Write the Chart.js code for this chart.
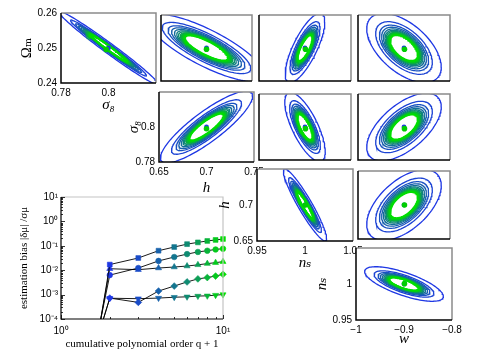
<!DOCTYPE html>
<html><head><meta charset="utf-8">
<script src="https://cdn.jsdelivr.net/npm/chart.js@4.4.1/dist/chart.umd.min.js"></script>
<style>
html,body{margin:0;padding:0;background:#fff;}
#wrap{position:relative;width:477px;height:361px;overflow:hidden;background:#fff;}
canvas{position:absolute;}
</style></head><body><div id="wrap"></div>
<script>
// ---------------- DATA ----------------
// cosmological parameters: Omega_m, sigma_8, h, n_s, w
const paramLabels = ['Ωₘ', 'σ₈', 'h', 'nₛ', 'w'];
const fiducial   = [0.25, 0.8, 0.7, 1.0, -0.9];
const biasedFit  = [0.2496, 0.799, 0.7, 1.0005, -0.899];
const axisMin    = [0.24, 0.78, 0.65, 0.95, -1.0];
const axisMax    = [0.26, 0.82, 0.75, 1.05, -0.8];
// tick labels of the four labelled (diagonal) panels
const diagXTicks = [[0.78, 0.8], [0.65, 0.7, 0.75], [0.95, 1, 1.05], [-1, -0.9, -0.8]];
const diagYTicks = [[0.24, 0.25, 0.26], [0.78, 0.8], [0.65, 0.7], [0.95, 1]];

// panels: y parameter / x parameter
const panelYParam = [0, 0, 0, 0, 1, 1, 1, 2, 2, 3];
const panelXParam = [1, 2, 3, 4, 2, 3, 4, 3, 4, 4];
// outermost contour half-extents and correlation per panel
const outerSigmaX = [0.021, 0.064, 0.0215, 0.081, 0.0485, 0.022, 0.081, 0.0225, 0.081, 0.082];
const outerSigmaY = [0.0105, 0.0102, 0.0105, 0.0105, 0.0205, 0.021, 0.0205, 0.05, 0.052, 0.024];
const contourCorr = [-0.985, -0.8, 0.75, -0.55, 0.86, -0.72, 0.6, -0.93, 0.55, -0.72];
// relative size of each nested contour (outer blue -> inner green)
const contourScale = [1.0, 0.76, 0.66, 0.6, 0.55, 0.51, 0.48, 0.45, 0.43, 0.41, 0.39, 0.37];

// inset: estimation bias vs cumulative polynomial order q+1
const polyOrder   = [1, 2, 3, 4, 5, 6, 7, 8, 9, 10];
const biasSquare  = [1e-14, 0.017, 0.0316, 0.063, 0.089, 0.117, 0.138, 0.158, 0.174, 0.19];
const biasCircle  = [1e-12, 0.0063, 0.0123, 0.024, 0.0347, 0.0457, 0.056, 0.063, 0.071, 0.076];
const biasTriUp   = [1e-13, 0.0115, 0.0105, 0.0123, 0.0135, 0.0148, 0.0166, 0.0186, 0.0204, 0.0224];
const biasDiamond = [2e-10, 0.00072, 0.00048, 0.0014, 0.00224, 0.0033, 0.0044, 0.005, 0.00575, 0.0068];
const biasTriDown = [2e-10, 0.00071, 0.00068, 0.00072, 0.00078, 0.00081, 0.00087, 0.00089, 0.00095, 0.001];
const insetXTicks = [1, 10];
const insetYTicks = [1e-4, 1e-3, 1e-2, 1e-1, 1, 10];
const insetXTickLabels = ['10⁰', '10¹'];
const insetYTickLabels = ['10⁻⁴', '10⁻³', '10⁻²', '10⁻¹', '10⁰', '10¹'];

// ---------------- LAYOUT / STYLE ----------------
const colLeft = [61, 159, 257, 356], colRight = [156, 254, 353, 452];
const rowTop = [13, 92, 169, 248], rowBottom = [83, 162, 241, 320];
const yTitleX = [27, 134, 225, 322], xTitleY = [105, 188, 263, 339];
const ELLIPSE_N = 120;
const BLUE = [30, 55, 228], GREEN = [0, 222, 0];
function mix(t) {
  const c = BLUE.map((b, i) => Math.round(b + (GREEN[i] - b) * t));
  return 'rgb(' + c.join(',') + ')';
}
Chart.defaults.font.family = "'Liberation Sans', Arial, sans-serif";
Chart.defaults.color = '#000';
const wrap = document.getElementById('wrap');

function addCanvas(left, top, w, h) {
  const c = document.createElement('canvas');
  c.width = w; c.height = h;
  c.style.left = left + 'px'; c.style.top = top + 'px';
  c.style.width = w + 'px'; c.style.height = h + 'px';
  wrap.appendChild(c);
  return c;
}
const framePlugin = {
  id: 'frame',
  beforeDraw(chart) {
    const {ctx, chartArea: a} = chart;
    ctx.save(); ctx.fillStyle = '#fff';
    ctx.fillRect(a.left, a.top, a.right - a.left, a.bottom - a.top); ctx.restore();
  },
  afterDraw(chart, args, opts) {
    const {ctx, chartArea: a} = chart;
    ctx.save(); ctx.lineWidth = opts.width || 1.5;
    ctx.strokeStyle = opts.light || '#8a8a8a';
    ctx.beginPath(); ctx.moveTo(a.left, a.top); ctx.lineTo(a.right, a.top); ctx.lineTo(a.right, a.bottom); ctx.stroke();
    ctx.strokeStyle = '#000';
    ctx.beginPath(); ctx.moveTo(a.left, a.top); ctx.lineTo(a.left, a.bottom); ctx.lineTo(a.right, a.bottom); ctx.stroke();
    ctx.restore();
  }
};
function fmt(v) { return String(+v.toFixed(4)).replace('-', '\u2212'); }

function ellipse(cx, cy, sx, sy, r, s) {
  const pts = [], q = Math.sqrt(1 - r * r);
  for (let k = 0; k <= ELLIPSE_N; k++) {
    const t = 2 * Math.PI * k / ELLIPSE_N;
    pts.push({x: cx + s * sx * Math.cos(t), y: cy + s * sy * (r * Math.cos(t) + q * Math.sin(t))});
  }
  return pts;
}

function panelDatasets(p) {
  const xi = panelXParam[p], yi = panelYParam[p];
  const ds = [];
  ds.push({data: [{x: biasedFit[xi], y: biasedFit[yi]}], pointRadius: 2.8, pointBackgroundColor: 'rgb(0,205,0)', pointBorderWidth: 0, showLine: false});
  ds.push({data: [{x: fiducial[xi], y: fiducial[yi]}], pointRadius: 2.4, pointBackgroundColor: 'rgb(30,55,228)', pointBorderWidth: 0, showLine: false});
  const n = contourScale.length;
  for (let i = n - 1; i >= 0; i--) {
    const t = Math.pow(i / (n - 1), 1.1);
    ds.push({
      data: ellipse(fiducial[xi], fiducial[yi], outerSigmaX[p], outerSigmaY[p], contourCorr[p], contourScale[i]),
      showLine: true, pointRadius: 0, borderColor: mix(t), borderWidth: i > n - 5 ? 1.9 : 1.3,
      clip: 0, tension: 0
    });
  }
  return ds;
}

function titleFont(pi) {
  return {family: "'Liberation Serif', 'DejaVu Serif', serif", size: 15, style: pi === 0 ? 'normal' : 'italic'};
}

function makePanel(p) {
  const xi = panelXParam[p], yi = panelYParam[p];
  const r = yi, c = xi - 1;
  const W = colRight[c] - colLeft[c], H = rowBottom[r] - rowTop[r];
  const diag = r === c;
  let canvas, layoutPad, scales;
  if (!diag) {
    const m = 2;
    canvas = addCanvas(colLeft[c] - m, rowTop[r] - m, W + 2 * m, H + 2 * m);
    layoutPad = m;
    scales = {
      x: {type: 'linear', min: axisMin[xi], max: axisMax[xi], display: false},
      y: {type: 'linear', min: axisMin[yi], max: axisMax[yi], display: false}
    };
  } else {
    const L = colLeft[c] - (yTitleX[r] - 11);
    const T = 10, R = 14;
    const B = (xTitleY[r] + 11) - rowBottom[r];
    canvas = addCanvas(colLeft[c] - L, rowTop[r] - T, L + W + R, T + H + B);
    layoutPad = {left: 0, top: T, right: R, bottom: 0};
    const tickFont = {size: 10};
    scales = {
      x: {type: 'linear', min: axisMin[xi], max: axisMax[xi],
        grid: {display: false, drawTicks: false}, border: {display: false},
        afterBuildTicks: s => { s.ticks = diagXTicks[r].map(v => ({value: v})); },
        afterFit: s => { s.height = B; },
        ticks: {padding: 4, font: tickFont, maxRotation: 0, minRotation: 0, autoSkip: false, callback: v => fmt(v)},
        title: {display: true, text: paramLabels[xi], font: titleFont(xi), padding: {top: 0, bottom: 2}, color: '#000'}},
      y: {type: 'linear', min: axisMin[yi], max: axisMax[yi],
        grid: {display: false, drawTicks: false}, border: {display: false},
        afterBuildTicks: s => { s.ticks = diagYTicks[r].map(v => ({value: v})); },
        afterFit: s => { s.width = L; },
        ticks: {padding: 4, font: tickFont, autoSkip: false, callback: v => fmt(v)},
        title: {display: true, text: paramLabels[yi], font: titleFont(yi), padding: {top: 2, bottom: 0}, color: '#000'}}
    };
  }
  new Chart(canvas, {
    type: 'scatter',
    data: {datasets: panelDatasets(p)},
    options: {
      responsive: false, animation: false, devicePixelRatio: 1, events: [],
      layout: {padding: layoutPad},
      plugins: {legend: {display: false}, tooltip: {enabled: false}, frame: {}},
      scales
    },
    plugins: [framePlugin]
  });
}

// ---------------- INSET ----------------
const insideTicks = {
  id: 'insideTicks',
  afterDraw(chart) {
    const {ctx, chartArea: a, scales: {x, y}} = chart;
    ctx.save(); ctx.strokeStyle = '#000'; ctx.lineWidth = 0.8; ctx.beginPath();
    for (let d = -4; d <= 1; d++) for (let m = 1; m <= 9; m++) {
      const v = m * Math.pow(10, d); if (v > 10.0001) continue;
      const py = Math.round(y.getPixelForValue(v)) + 0.5, len = m === 1 ? 4 : 2;
      ctx.moveTo(a.left, py); ctx.lineTo(a.left + len, py);
    }
    for (let m = 1; m <= 10; m++) {
      const px = Math.round(x.getPixelForValue(m)) + 0.5, len = (m === 1 || m === 10) ? 4 : 2;
      ctx.moveTo(px, a.bottom); ctx.lineTo(px, a.bottom - len);
    }
    ctx.stroke(); ctx.restore();
  }
};
function makeInset() {
  const cl = 0, ct = 185, cw = 240, ch = 176;
  const L = 61, T = 197 - ct, R = cl + cw - 223, B = ct + ch - 319;
  const canvas = addCanvas(cl, ct, cw, ch);
  const series = [biasSquare, biasCircle, biasTriUp, biasDiamond, biasTriDown];
  const styles = [['rect', 3.4, 0], ['circle', 2.8, 0], ['triangle', 3.5, 0], ['rectRot', 3.4, 0], ['triangle', 3.5, 180]];
  const colors = polyOrder.map((o, i) => mix(Math.max(0, i - 1) / (polyOrder.length - 2)));
  const datasets = series.map((vals, s) => ({
    data: polyOrder.map((o, i) => ({x: o, y: vals[i]})),
    showLine: true, borderColor: '#000', borderWidth: 0.9,
    pointStyle: styles[s][0], pointRadius: styles[s][1], pointRotation: styles[s][2],
    pointBackgroundColor: colors, pointBorderColor: colors, pointBorderWidth: 0.6,
    clip: {left: 0, top: 0, right: 6, bottom: 0}
  }));
  const serif = "'Liberation Serif', 'DejaVu Serif', serif";
  new Chart(canvas, {
    type: 'scatter',
    data: {datasets},
    options: {
      responsive: false, animation: false, devicePixelRatio: 1, events: [],
      layout: {padding: {left: 0, top: T, right: R, bottom: 0}},
      plugins: {legend: {display: false}, tooltip: {enabled: false}, frame: {light: '#c4c4c4', width: 1.2}},
      scales: {
        x: {type: 'logarithmic', min: 1, max: 10,
          grid: {display: false, drawTicks: false}, border: {display: false},
          afterBuildTicks: s => { s.ticks = insetXTicks.map(v => ({value: v})); },
          afterFit: s => { s.height = B; },
          ticks: {padding: 6, font: {size: 10}, maxRotation: 0, minRotation: 0, autoSkip: false,
            callback: (v) => insetXTickLabels[insetXTicks.indexOf(v)]},
          title: {display: true, text: 'cumulative polynomial order q + 1', font: {family: serif, size: 11},
            padding: {top: 0, bottom: 10}, color: '#000'}},
        y: {type: 'logarithmic', min: 1e-4, max: 10,
          grid: {display: false, drawTicks: false}, border: {display: false},
          afterBuildTicks: s => { s.ticks = insetYTicks.map(v => ({value: v})); },
          afterFit: s => { s.width = L; },
          ticks: {padding: 3, font: {size: 10}, autoSkip: false,
            callback: (v) => { const i = insetYTicks.findIndex(t => Math.abs(t - v) / t < 1e-6); return insetYTickLabels[i]; }},
          title: {display: true, text: 'estimation bias |δμ| /σμ', font: {family: serif, size: 11},
            padding: {top: 18, bottom: 0}, color: '#000'}}
      }
    },
    plugins: [framePlugin, insideTicks]
  });
}

// draw order: rows 1-2, inset, rows 3-4
for (let p = 0; p < panelYParam.length; p++) if (panelYParam[p] <= 1) makePanel(p);
makeInset();
for (let p = 0; p < panelYParam.length; p++) if (panelYParam[p] >= 2) makePanel(p);
</script></body></html>
